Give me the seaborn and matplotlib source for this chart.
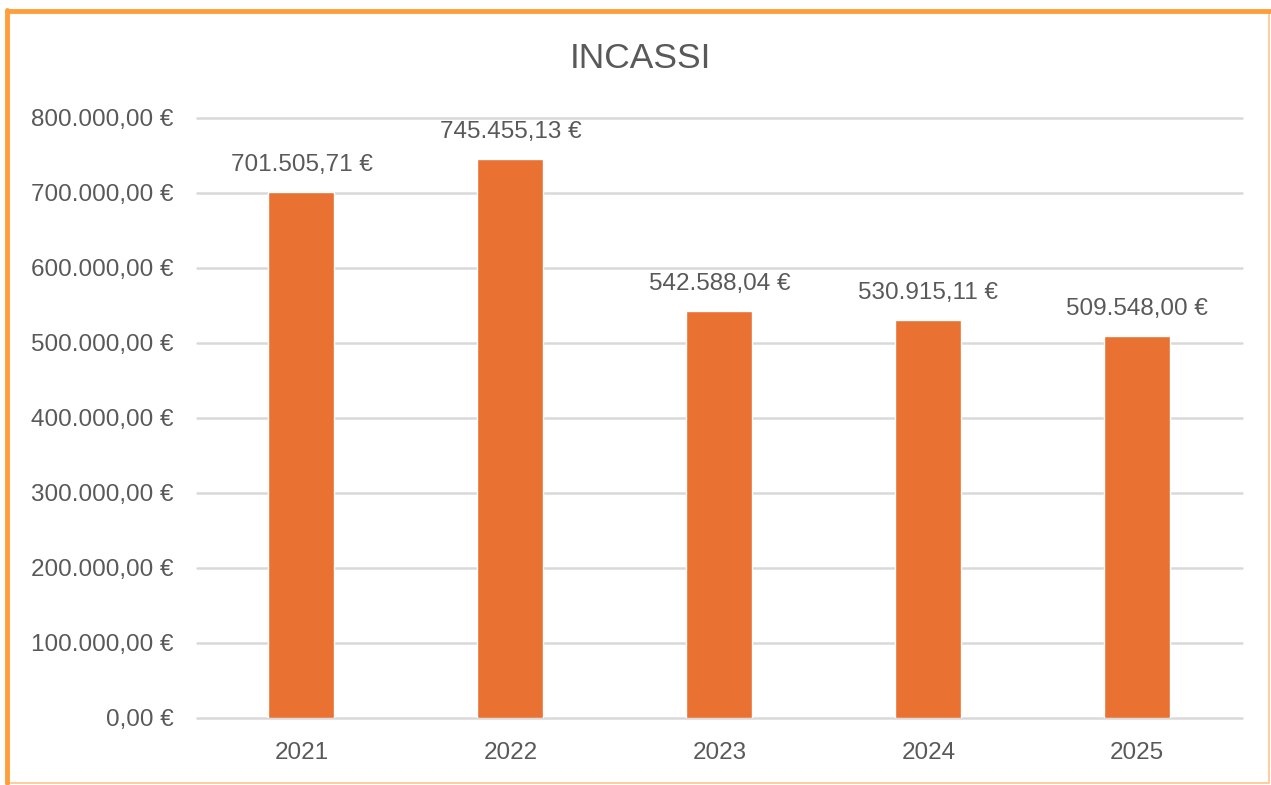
import pandas as pd
import matplotlib.pyplot as plt
import seaborn as sns
from matplotlib.patches import Rectangle
from matplotlib.ticker import FuncFormatter

# data
anni = ['2021', '2022', '2023', '2024', '2025']
incassi = [701505.71, 745455.13, 542588.04, 530915.11, 509548.00]
y_ticks = [0, 100000, 200000, 300000, 400000, 500000, 600000, 700000, 800000]

df = pd.DataFrame({'anno': anni, 'incasso': incassi})


def euro(v, pos=None):
    # italian style: 701.505,71 €
    s = f'{v:,.2f}'
    s = s.replace(',', 'X').replace('.', ',').replace('X', '.')
    return f'{s} €'


sns.set_theme(style='white')
plt.rcParams['font.family'] = ['Liberation Sans', 'DejaVu Sans']

grey = '#595959'
orange = '#E97132'

fig = plt.figure(figsize=(12.71, 7.85), dpi=100)
ax = fig.add_axes([0.155, 0.0854, 0.822, 0.7643])

sns.barplot(
    data=df,
    x='anno',
    y='incasso',
    color=orange,
    saturation=1,
    width=0.316,
    ax=ax
)

ax.set_xlim(-0.5, 4.5)
ax.set_ylim(0, 800000)
ax.set_yticks(y_ticks)
ax.yaxis.set_major_formatter(FuncFormatter(euro))
ax.grid(axis='y', color='#D9D9D9', linewidth=1.8)
for gl in ax.get_ygridlines():
    gl.set_clip_on(False)
ax.set_axisbelow(True)
for side in ['top', 'right', 'left', 'bottom']:
    ax.spines[side].set_visible(False)
ax.tick_params(axis='y', length=0, pad=17, labelsize=17.5, labelcolor=grey)
ax.tick_params(axis='x', length=0, pad=17, labelsize=17.5, labelcolor=grey)
ax.set_xlabel('')
ax.set_ylabel('')

ax.bar_label(
    ax.containers[0],
    labels=[euro(v) for v in incassi],
    padding=11.5,
    fontsize=17.5,
    color=grey
)

fig.text(0.5035, 0.926, 'INCASSI', ha='center', va='center',
         fontsize=25.5, color=grey)

# orange frame around the chart
fig.patches.append(Rectangle((0.0055, 0.002), 0.993, 0.984,
                             transform=fig.transFigure, fill=False,
                             edgecolor='#FFC58A', linewidth=1.2))
fig.lines.append(plt.Line2D([0.0055, 0.999], [0.9855, 0.9855],
                            transform=fig.transFigure, color='#FF9E3A',
                            linewidth=3.5))
fig.lines.append(plt.Line2D([0.0053, 0.0053], [0.002, 0.987],
                            transform=fig.transFigure, color='#FF9E3A',
                            linewidth=3.5))

plt.savefig('out.png', dpi=100)
